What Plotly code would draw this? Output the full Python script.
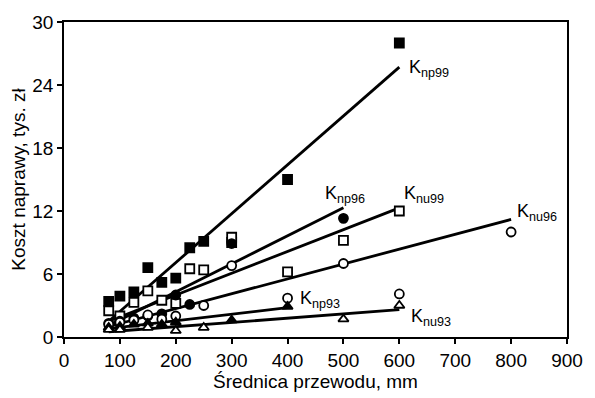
import plotly.graph_objects as go

# --- data ---
knp99_x = [80, 100, 125, 150, 175, 200, 225, 250, 300, 400, 600]
knp99_y = [3.4, 3.9, 4.3, 6.6, 5.2, 5.6, 8.5, 9.1, 9.0, 15.0, 28.0]
knp99_fit_x = [80, 600]
knp99_fit_y = [1.5, 25.7]

knp96_x = [80, 100, 125, 150, 175, 200, 225, 300, 500]
knp96_y = [1.3, 1.5, 1.8, 2.0, 2.2, 4.0, 3.1, 8.9, 11.3]
knp96_fit_x = [80, 500]
knp96_fit_y = [1.1, 12.3]

knu99_x = [80, 100, 125, 150, 175, 200, 225, 250, 300, 400, 500, 600]
knu99_y = [2.5, 2.0, 3.3, 4.4, 3.5, 3.2, 6.5, 6.4, 9.5, 6.2, 9.2, 12.0]
knu99_fit_x = [80, 600]
knu99_fit_y = [1.5, 12.3]

knu96_x = [80, 100, 125, 150, 175, 200, 250, 300, 400, 500, 600, 800]
knu96_y = [1.2, 1.4, 1.6, 2.1, 1.7, 2.0, 3.0, 6.8, 3.7, 7.0, 4.1, 10.0]
knu96_fit_x = [80, 800]
knu96_fit_y = [1.0, 11.2]

knp93_x = [80, 100, 125, 150, 175, 200, 300, 400]
knp93_y = [0.9, 1.0, 1.2, 1.3, 1.2, 1.4, 1.6, 2.9]
knp93_fit_x = [80, 400]
knp93_fit_y = [0.8, 2.8]

knu93_x = [80, 100, 150, 200, 250, 500, 600]
knu93_y = [0.7, 0.7, 0.9, 0.6, 0.9, 1.7, 3.0]
knu93_fit_x = [80, 600]
knu93_fit_y = [0.5, 2.6]

label_text = ["K<sub>np99</sub>", "K<sub>np96</sub>", "K<sub>nu99</sub>",
              "K<sub>nu96</sub>", "K<sub>np93</sub>", "K<sub>nu93</sub>"]
label_x = [614, 464, 605, 807, 419, 617]
label_y = [25.6, 13.6, 13.6, 11.9, 3.6, 1.9]

x_ticks = [0, 100, 200, 300, 400, 500, 600, 700, 800, 900]
y_ticks = [0, 6, 12, 18, 24, 30]

FONT = "Liberation Sans, Arial"

fig = go.Figure()

series = [
    (knp99_x, knp99_y, knp99_fit_x, knp99_fit_y, "square", "black"),
    (knu99_x, knu99_y, knu99_fit_x, knu99_fit_y, "square", "white"),
    (knp96_x, knp96_y, knp96_fit_x, knp96_fit_y, "circle", "black"),
    (knu96_x, knu96_y, knu96_fit_x, knu96_fit_y, "circle", "white"),
    (knp93_x, knp93_y, knp93_fit_x, knp93_fit_y, "triangle-up", "black"),
    (knu93_x, knu93_y, knu93_fit_x, knu93_fit_y, "triangle-up", "white"),
]

for sx, sy, fx, fy, sym, fill in series:
    fig.add_trace(go.Scatter(x=fx, y=fy, mode="lines",
                             line=dict(color="black", width=2.8),
                             showlegend=False, hoverinfo="skip"))
for sx, sy, fx, fy, sym, fill in series:
    fig.add_trace(go.Scatter(x=sx, y=sy, mode="markers",
                             marker=dict(symbol=sym, size=9, color=fill,
                                         line=dict(color="black", width=1.8)),
                             showlegend=False))

for t, lx, ly in zip(label_text, label_x, label_y):
    fig.add_annotation(x=lx, y=ly, text=t, showarrow=False, xanchor="left",
                       yanchor="middle",
                       font=dict(family=FONT, size=18, color="#000000"))

axis_common = dict(showgrid=False, zeroline=False, showline=True, linecolor="black",
                   linewidth=1.5, mirror=True, ticks="outside", ticklen=5,
                   tickcolor="black", tickwidth=1.5,
                   tickfont=dict(family=FONT, size=19, color="black"))

fig.update_xaxes(range=[0, 900], tickvals=x_ticks, **axis_common,
                 title=dict(text="Średnica przewodu, mm", standoff=2,
                            font=dict(family=FONT, size=19, color="black")))
fig.update_yaxes(range=[0, 30], tickvals=y_ticks, **axis_common,
                 title=dict(text="Koszt naprawy, tys. zł", standoff=2,
                            font=dict(family=FONT, size=19, color="black")))

fig.update_layout(width=595, height=398, margin=dict(l=64, r=17, t=18, b=59),
                  plot_bgcolor="white", paper_bgcolor="white")

fig.write_html("out.html")
